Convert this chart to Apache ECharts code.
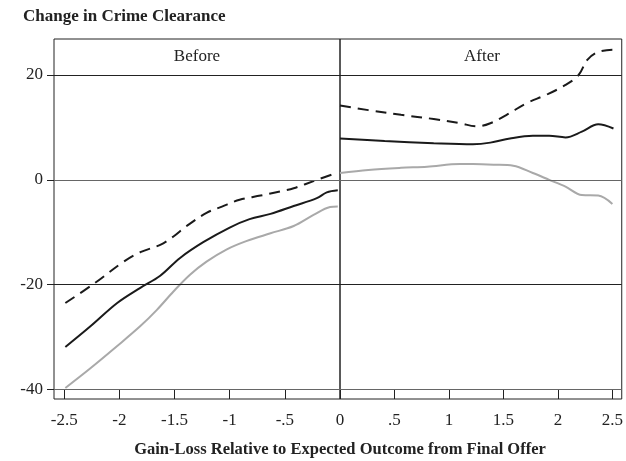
<!DOCTYPE html>
<html>
<head>
<meta charset="utf-8">
<script src="https://cdn.jsdelivr.net/npm/echarts@6/dist/echarts.min.js"></script>
<style>
html,body{margin:0;padding:0;background:#fff;}
#chart{width:626px;height:461px;}
</style>
</head>
<body>
<div id="chart"></div>
<script>
// ---- Data ----
var panelTitles = ['Before', 'After'];
var yTicks = [20, 0, -20, -40];
var xTicksBefore = [-2.5, -2, -1.5, -1, -0.5, 0];
var xTicksAfter = [0, 0.5, 1, 1.5, 2, 2.5];

// Before panel
var beforeDashX = [-2.49, -2.23, -1.96, -1.81, -1.63, -1.51, -1.39, -1.21, -1.07, -0.91, -0.72, -0.54, -0.42, -0.21, -0.02];
var beforeDashY = [-23.5, -19.8, -15.6, -13.8, -12.4, -10.8, -8.8, -6.3, -5.1, -3.8, -3.0, -2.2, -1.6, 0.0, 1.4];
var beforeSolidX = [-2.49, -2.26, -2.02, -1.81, -1.63, -1.45, -1.24, -1.0, -0.82, -0.63, -0.42, -0.21, -0.12, -0.02];
var beforeSolidY = [-31.9, -27.9, -23.5, -20.6, -18.3, -14.9, -11.9, -9.1, -7.5, -6.5, -5.0, -3.5, -2.4, -2.0];
var beforeGrayX = [-2.49, -2.26, -2.02, -1.81, -1.66, -1.51, -1.36, -1.21, -1.03, -0.85, -0.63, -0.42, -0.24, -0.09, -0.02];
var beforeGrayY = [-39.7, -35.9, -31.7, -27.9, -24.8, -21.3, -18.1, -15.6, -13.3, -11.7, -10.2, -8.8, -6.7, -5.2, -5.1];

// After panel
var afterDashX = [0.0, 0.26, 0.56, 0.86, 1.10, 1.26, 1.38, 1.53, 1.71, 1.89, 2.07, 2.19, 2.27, 2.37, 2.50];
var afterDashY = [14.2, 13.3, 12.4, 11.6, 10.8, 10.2, 10.8, 12.4, 14.6, 16.2, 18.1, 20.0, 22.9, 24.4, 24.8];
var afterSolidX = [0.0, 0.41, 0.86, 1.22, 1.38, 1.56, 1.77, 1.92, 2.07, 2.22, 2.37, 2.51];
var afterSolidY = [7.9, 7.4, 7.0, 6.8, 7.1, 7.9, 8.4, 8.4, 8.1, 9.2, 10.6, 9.8];
var afterGrayX = [0.0, 0.26, 0.56, 0.80, 1.10, 1.22, 1.41, 1.59, 1.77, 1.92, 2.07, 2.22, 2.37, 2.50];
var afterGrayY = [1.3, 1.9, 2.3, 2.5, 3.0, 3.0, 2.9, 2.7, 1.3, 0.0, -1.3, -2.9, -3.0, -4.6];

var chartTitle = 'Change in Crime Clearance';
var xTitle = 'Gain-Loss Relative to Expected Outcome from Final Offer';

// ---- Helpers ----
function pairs(xs, ys) { return xs.map(function (x, i) { return [x, ys[i]]; }); }
function fmtX(v) {
  var s = String(Math.round(v * 10) / 10);
  return s.replace(/^0\./, '.').replace(/^-0\./, '-.');
}
var FONT = '"Liberation Serif", "DejaVu Serif", serif';
var TXT = '#222';

var Y_MIN = -41.81, Y_MAX = 26.87;
var grids = [
  { left: 54, top: 39, width: 286, height: 360, show: true, borderColor: '#222', borderWidth: 1, backgroundColor: 'transparent' },
  { left: 340, top: 39, width: 284, height: 360, show: true, borderColor: '#222', borderWidth: 1, backgroundColor: 'transparent' }
];

function xAxisDef(idx, min, max, ticks, showLabels) {
  return {
    type: 'value', gridIndex: idx, min: min, max: max, position: 'bottom',
    axisLine: { show: false, onZero: false },
    splitLine: { show: false },
    axisTick: { show: true, inside: true, length: 9, customValues: ticks, lineStyle: { color: '#222', width: 1 } },
    axisLabel: {
      show: true, customValues: showLabels, margin: 13,
      fontFamily: FONT, fontSize: 17, color: TXT,
      formatter: fmtX
    }
  };
}
function yAxisDef(idx, labels) {
  return {
    type: 'value', gridIndex: idx, min: Y_MIN, max: Y_MAX, position: 'left',
    axisLine: { show: false, onZero: false },
    splitLine: { show: false },
    axisTick: { show: labels, inside: false, length: 7, customValues: yTicks, lineStyle: { color: '#222', width: 1 } },
    axisLabel: { show: labels, customValues: yTicks, margin: 11, fontFamily: FONT, fontSize: 17, color: TXT }
  };
}

var gridLineColors = { '20': '#222', '0': '#666', '-20': '#222', '-40': '#666' };
function gridMarkLine() {
  return {
    silent: true, symbol: ['none', 'none'], animation: false,
    label: { show: false },
    data: yTicks.map(function (v) {
      return { yAxis: v, lineStyle: { color: gridLineColors[String(v)], width: 1, type: 'solid' } };
    })
  };
}

function lineSeries(idx, xs, ys, style, withGrid) {
  var s = {
    type: 'line', xAxisIndex: idx, yAxisIndex: idx,
    data: pairs(xs, ys), showSymbol: false, symbol: 'none',
    smooth: 0.35, clip: true, z: 3,
    lineStyle: style
  };
  if (withGrid) s.markLine = gridMarkLine();
  return s;
}

var dashStyle = { color: '#1a1a1a', width: 2, type: [11, 7] };
var solidStyle = { color: '#1a1a1a', width: 2, type: 'solid' };
var grayStyle = { color: '#a9a9a9', width: 2, type: 'solid' };

var option = {
  animation: false,
  backgroundColor: '#fff',
  grid: grids,
  xAxis: [
    xAxisDef(0, -2.593, 0, xTicksBefore, xTicksBefore.slice(0, 5)),
    xAxisDef(1, 0, 2.586, xTicksAfter, xTicksAfter)
  ],
  yAxis: [yAxisDef(0, true), yAxisDef(1, false)],
  series: [
    lineSeries(0, beforeGrayX, beforeGrayY, grayStyle, true),
    lineSeries(0, beforeSolidX, beforeSolidY, solidStyle, false),
    lineSeries(0, beforeDashX, beforeDashY, dashStyle, false),
    lineSeries(1, afterGrayX, afterGrayY, grayStyle, true),
    lineSeries(1, afterSolidX, afterSolidY, solidStyle, false),
    lineSeries(1, afterDashX, afterDashY, dashStyle, false)
  ],
  graphic: [
    { type: 'text', left: 23, top: 8, style: { text: chartTitle, font: 'bold 17px ' + FONT, fill: TXT } },
    { type: 'text', x: 197, y: 57, style: { text: panelTitles[0], font: '17px ' + FONT, fill: TXT, textAlign: 'center', textVerticalAlign: 'middle' } },
    { type: 'text', x: 482, y: 57, style: { text: panelTitles[1], font: '17px ' + FONT, fill: TXT, textAlign: 'center', textVerticalAlign: 'middle' } },
    { type: 'text', x: 340, y: 450, style: { text: xTitle, font: 'bold 16.5px ' + FONT, fill: TXT, textAlign: 'center', textVerticalAlign: 'middle' } }
  ]
};

var chart = echarts.init(document.getElementById('chart'), null, { renderer: 'canvas' });
chart.setOption(option);
</script>
</body>
</html>
